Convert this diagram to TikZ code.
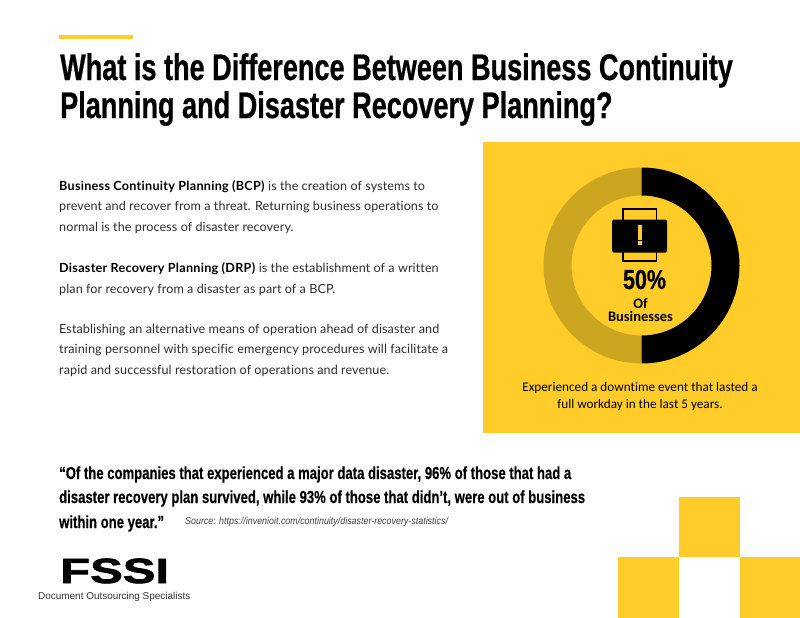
\documentclass[tikz,border=0pt]{standalone}
\usepackage{fontspec}
\setmainfont[Ligatures=NoCommon,LetterSpace=0.7,BoldFeatures={LetterSpace=2.2}]{Lato}
\newfontfamily\headfont[FakeStretch=0.732,FakeBold=0.6]{Liberation Sans Bold}
\newfontfamily\pctfont[FakeStretch=0.78,FakeBold=0.6]{Liberation Sans Bold}
\newfontfamily\quotefont[FakeStretch=0.749,FakeBold=0.4]{Liberation Sans Bold}
\newfontfamily\sourcefont[FakeStretch=0.89]{Liberation Sans Italic}
\newfontfamily\logofont[FakeStretch=1.40,FakeBold=2]{Liberation Sans Bold}
\newfontfamily\tagfont{Liberation Sans}
\newfontfamily\notefont[Ligatures=NoCommon]{Carlito}
\definecolor{fssiyellow}{HTML}{FFCC29}
\definecolor{ringdark}{HTML}{CCA521}
\definecolor{bodygray}{HTML}{2E2E2E}
\tikzset{
	title/.style={anchor=base west, inner sep=0pt, font=\headfont\fontsize{37}{37}\selectfont},
	body/.style={anchor=base west, inner sep=0pt, text=bodygray, font=\fontsize{12.6}{14}\selectfont},
	quoteline/.style={anchor=base west, inner sep=0pt, font=\quotefont\fontsize{17.5}{18}\selectfont},
	note/.style={anchor=base, inner sep=0pt, font=\notefont\fontsize{13.2}{15}\selectfont},
	ringnote/.style={anchor=base, inner sep=0pt, font=\notefont\bfseries\fontsize{14.5}{15}\selectfont}
}
\begin{document}
\begin{tikzpicture}[x=1pt,y=-1pt]
	\useasboundingbox (0,0) rectangle (800,618);
	\fill[white] (0,0) rectangle (800,618);

	\fill[fssiyellow] (59,35) rectangle (133,39);
	\node[title] (title1) at (60,80) {What is the Difference Between Business Continuity};
	\node[title] (title2) at (60,118) {Planning and Disaster Recovery Planning?};

	\node[body] (bcp1) at (59,190) {\textcolor{black}{\textbf{Business Continuity Planning (BCP)}} is the creation of systems to};
	\node[body] (bcp2) at (59,210) {prevent and recover from a threat. Returning business operations to};
	\node[body] (bcp3) at (59,231) {normal is the process of disaster recovery.};

	\node[body] (drp1) at (59,272) {\textcolor{black}{\textbf{Disaster Recovery Planning (DRP)}} is the establishment of a written};
	\node[body] (drp2) at (59,293) {plan for recovery from a disaster as part of a BCP.};

	\node[body] (est1) at (59,333) {Establishing an alternative means of operation ahead of disaster and};
	\node[body] (est2) at (59,353) {training personnel with specific emergency procedures will facilitate a};
	\node[body] (est3) at (59,374) {rapid and successful restoration of operations and revenue.};

	% panel
	\fill[fssiyellow] (483,142) rectangle (800,433);
	\fill[ringdark] (641.5,167.5) arc[start angle=-90, end angle=-270, radius=98]
		-- (641.5,335.5) arc[start angle=-270, end angle=-90, radius=70] -- cycle;
	\fill[black] (641.5,167.5) arc[start angle=-90, end angle=90, radius=98]
		-- (641.5,335.5) arc[start angle=90, end angle=-90, radius=70] -- cycle;

	% printer
	\draw[black, line width=1.8pt] (623,209) rectangle (656.5,221);
	\draw[black, line width=1.8pt] (623,248) rectangle (656.5,261);
	\fill[black, rounded corners=1.5pt] (612,219.5) rectangle (667,252.5);
	\fill[fssiyellow] (638.3,225) rectangle (641.7,239.5);
	\fill[fssiyellow] (638.3,241) rectangle (641.7,244.5);

	\node[anchor=base, inner sep=0pt, font=\pctfont\fontsize{27.5}{27}\selectfont] (pct) at (644.5,289) {50\%};
	\node[ringnote] (of) at (640.5,308) {Of};
	\node[ringnote] (biz) at (640.5,321) {Businesses};

	\node[note] (note1) at (640,391) {Experienced a downtime event that lasted a};
	\node[note] (note2) at (640,408) {full workday in the last 5 years.};

	% quote
	\node[quoteline] (quote1) at (59,479) {“Of the companies that experienced a major data disaster, 96\% of those that had a};
	\node[quoteline] (quote2) at (59,503) {disaster recovery plan survived, while 93\% of those that didn’t, were out of business};
	\node[quoteline] (quote3) at (59,528) {within one year.”};
	\node[anchor=base west, inner sep=0pt, font=\sourcefont\fontsize{10}{10}\selectfont, black!75] (source) at (185,524) {Source: https://invenioit.com/continuity/disaster-recovery-statistics/};

	% logo
	\node[anchor=base west, inner sep=0pt, font=\logofont\fontsize{35}{35}\selectfont] (logo) at (60,583) {FSSI};
	\node[anchor=base west, inner sep=0pt, font=\tagfont\fontsize{9.95}{11}\selectfont, black!80] (tag) at (38,599) {Document Outsourcing Specialists};

	% squares
	\fill[fssiyellow] (679,497) rectangle (740,557);
	\fill[fssiyellow] (618,557) rectangle (679,618);
	\fill[fssiyellow] (740,557) rectangle (800,618);
\end{tikzpicture}
\end{document}
